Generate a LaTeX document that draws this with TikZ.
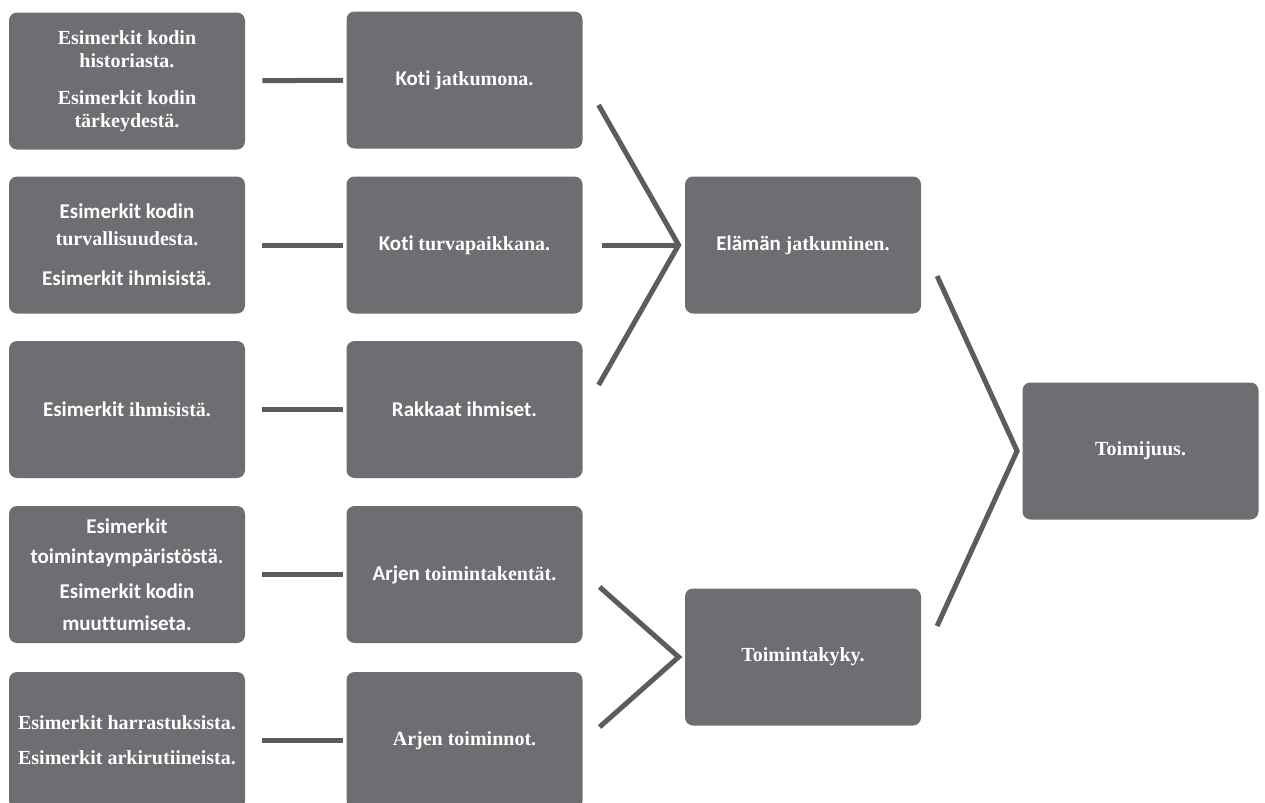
\documentclass[tikz,border=0pt]{standalone}
\usepackage{fontspec}
\usetikzlibrary{calc}
\newfontfamily\serf{Liberation Serif}
\newfontfamily\sanf{Carlito}[Ligatures=CommonOff,Scale=1.05]
\definecolor{boxgray}{RGB}{110,110,114}
\definecolor{linegray}{RGB}{92,92,96}
\tikzset{
  box/.style={draw=none, fill=boxgray, rounded corners=4pt, minimum width=118pt,
    minimum height=68.5pt, inner sep=2pt, align=center, text=white,
    font=\fontsize{10}{11.5}\selectfont\bfseries\serf},
  conn/.style={draw=linegray, line width=2.5pt},
}
\begin{document}
\begin{tikzpicture}[x=0.5pt,y=-0.5pt]
\useasboundingbox (0,0) rectangle (1265,803);
\clip (0,0) rectangle (1265,803);
% column 1
\node[box] (a1) at (127,81) {Esimerkit kodin\\historiasta.\\[7pt]Esimerkit kodin\\tärkeydestä.};
\node[box] (a2) at (127,245) {\sanf Esimerkit kodin\\[2pt] \serf turvallisuudesta.\\[8.5pt] \sanf Esimerkit ihmisistä.};
\node[box] (a3) at (127,409.5) {\sanf Esimerkit \serf ihmisistä.};
\node[box] (a4) at (127,574.5) {\sanf Esimerkit\\[3.5pt] \sanf toimintaympäristöstä.\\[6pt] \sanf Esimerkit kodin\\[4.5pt] \sanf muuttumiseta.};
\node[box] (a5) at (127,740.5) {Esimerkit harrastuksista.\\[6pt]Esimerkit arkirutiineista.};
% column 2
\node[box] (b1) at (464.5,80) {\sanf Koti \serf jatkumona.};
\node[box] (b2) at (464.5,245) {\sanf Koti \serf turvapaikkana.};
\node[box] (b3) at (464.5,409.5) {\sanf Rakkaat ihmiset.};
\node[box] (b4) at (464.5,574.5) {\sanf Arjen \serf toimintakentät.};
\node[box] (b5) at (464.5,740.5) {Arjen toiminnot.};
% column 3
\node[box] (E) at (803,245) {\sanf Elämän \serf jatkuminen.};
\node[box] (T) at (803,657) {Toimintakyky.};
% column 4
\node[box] (J) at (1140.5,451) {Toimijuus.};
% connectors column 1 -> column 2
\foreach \i in {1,...,5}{
  \draw[conn, shorten <=8.5pt, shorten >=1.5pt] (a\i) -- (b\i);
}
% fan into Elämän jatkuminen
\coordinate (jE) at ([xshift=-3pt]E.west);
\draw[conn] ($(jE)+(-80,-140)$) -- (jE) -- ($(jE)+(-80,140)$);
\draw[conn, shorten <=9.5pt] (b2) -- (jE);
% fan into Toimintakyky
\coordinate (jT) at ([xshift=-3pt]T.west);
\draw[conn] ($(jT)+(-79,-70)$) -- (jT) -- ($(jT)+(-79,70)$);
% fan into Toimijuus
\coordinate (jJ) at ([xshift=-2.5pt]J.west);
\draw[conn] ($(jJ)+(-80,-175)$) -- (jJ) -- ($(jJ)+(-80,175)$);
\end{tikzpicture}
\end{document}
